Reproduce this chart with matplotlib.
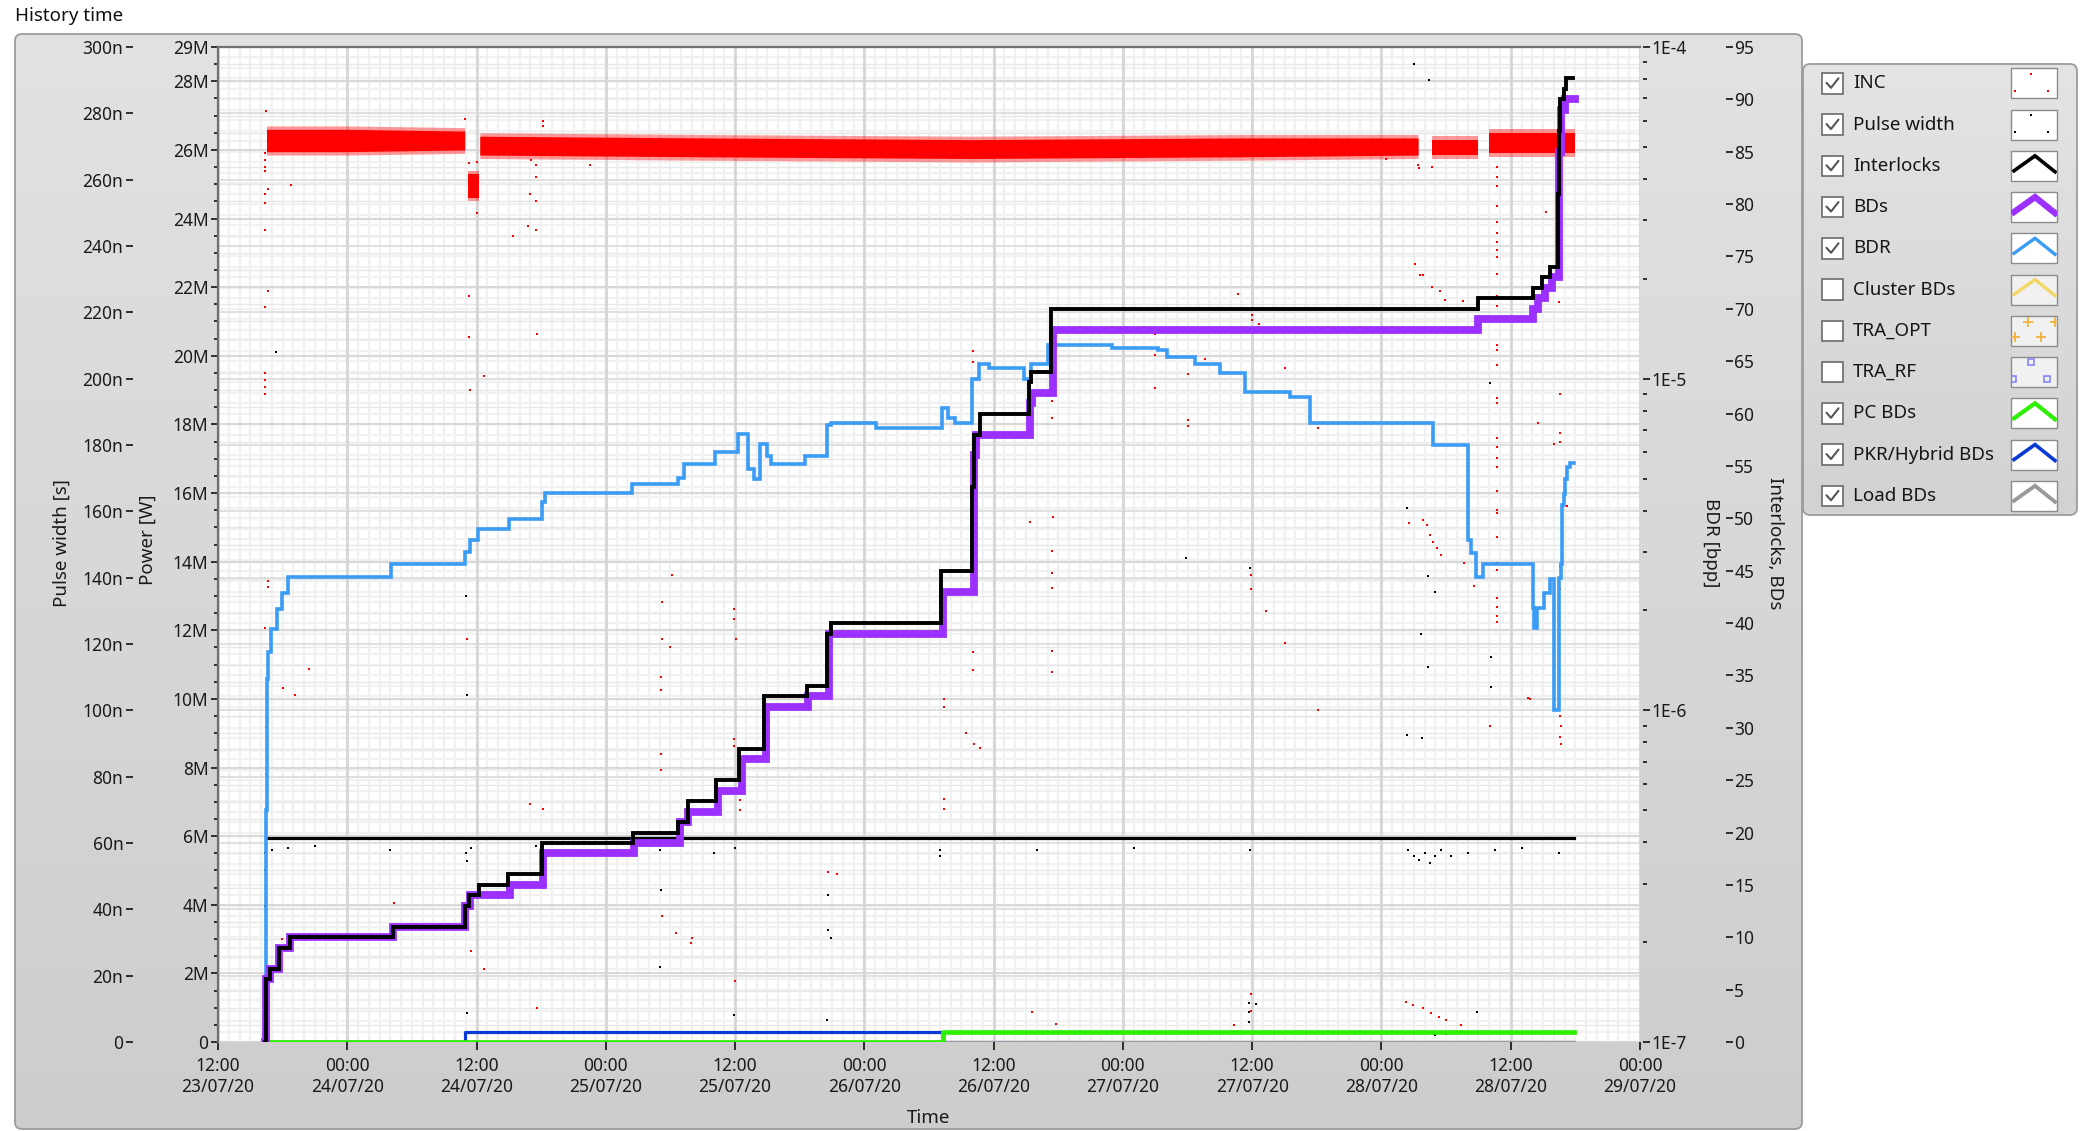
import datetime as dt
import numpy as np
import matplotlib
matplotlib.use("Agg")
import matplotlib.pyplot as plt
import matplotlib.dates as mdates
from matplotlib.patches import FancyBboxPatch, Rectangle
from matplotlib.colors import LinearSegmentedColormap
from matplotlib.ticker import LogLocator, NullFormatter, MultipleLocator

plt.rcParams['font.family'] = ['Noto Sans', 'DejaVu Sans']

W, H = 2088, 1131
T0 = dt.datetime(2020, 7, 23, 12, 0)
SPAN_H = 132

# ---- data (time in hours after 23/07/20 12:00) ----
# INC power band (dense red dots), in MW
inc_band_t = [[4.5, 12.0, 22.9], [23.2, 24.2], [24.3, 45.0, 70.0, 95.0, 111.4],
              [112.7, 117.0], [118.0, 126.0]]
inc_band_lo = [[25.95, 25.95, 26.0], [24.6, 24.6], [25.85, 25.8, 25.75, 25.8, 25.85],
               [25.85, 25.85], [25.9, 25.9]]
inc_band_hi = [[26.6, 26.6, 26.55], [25.3, 25.3], [26.4, 26.35, 26.3, 26.35, 26.35],
               [26.3, 26.3], [26.5, 26.5]]

# INC isolated points (hours, MW)
inc_outliers = [
    (4.49, 27.14), (4.4, 25.9), (4.4, 25.7), (4.4, 25.5), (4.4, 25.4), (4.34, 24.73),
    (4.65, 24.87), (4.34, 24.44), (6.82, 24.98), (4.34, 23.68), (4.65, 21.89), (4.34, 21.41),
    (4.4, 19.5), (4.4, 19.3), (4.4, 19.1), (4.4, 18.9), (4.66, 13.44), (4.66, 13.25),
    (4.37, 12.08), (8.49, 10.88), (6.03, 10.31), (7.11, 10.10), (4.5, 9.17), (4.5, 7.8),
    (4.5, 6.5), (4.5, 4.53), (4.5, 2.74), (5.9, 3.0),
    (23.3, 25.61), (24.0, 25.66), (22.9, 26.9), (24.0, 24.15), (23.3, 21.75), (23.3, 20.55),
    (24.7, 19.4), (23.4, 19.0), (23.15, 11.74), (23.5, 2.66), (24.7, 2.12), (16.3, 4.05),
    (30.2, 26.84), (30.2, 26.7), (29.1, 25.7), (29.5, 25.57), (29.5, 25.2), (29.0, 24.73),
    (29.5, 24.5), (28.8, 23.78), (29.5, 23.68), (27.4, 23.49), (29.6, 20.64), (34.5, 25.56),
    (29.0, 6.94), (30.2, 6.79), (29.6, 1.0),
    (42.1, 13.62), (41.2, 12.83), (41.2, 11.74), (42.0, 11.5), (41.1, 10.64), (41.1, 10.25),
    (41.1, 8.38), (41.1, 7.94), (41.2, 3.66), (42.5, 3.17), (44.0, 3.03), (43.9, 2.88),
    (47.9, 12.61), (47.9, 12.32), (48.1, 11.74), (47.9, 8.82), (47.9, 8.63), (48.5, 7.05),
    (48.5, 6.75), (48.0, 1.78), (56.6, 4.95), (57.5, 4.9),
    (67.35, 10.0), (67.35, 9.77), (67.35, 7.07), (67.35, 6.79),
    (70.1, 20.13), (70.1, 19.82), (70.1, 11.37), (70.1, 10.85), (69.4, 9.01), (70.2, 8.69),
    (70.7, 8.57), (75.4, 15.16), (77.5, 15.31), (77.4, 14.3), (77.4, 13.66), (77.4, 13.24),
    (77.4, 11.4), (77.4, 10.78), (77.4, 18.67), (77.4, 18.2), (75.6, 0.87), (77.8, 0.53),
    (87.0, 20.64), (87.0, 20.03), (87.0, 19.06), (90.0, 19.48), (90.0, 18.14), (90.0, 17.95),
    (91.6, 19.91), (94.7, 21.81), (96.0, 21.18), (96.0, 21.04), (96.6, 20.94), (99.0, 19.64),
    (102.1, 17.9), (95.9, 13.2), (95.9, 13.6), (97.3, 12.56), (99.0, 11.64), (102.1, 9.67),
    (94.3, 0.5), (95.9, 1.4), (95.9, 0.9),
    (108.4, 25.74), (111.4, 25.55), (111.5, 25.47), (112.7, 25.5), (111.1, 22.68),
    (111.6, 22.35), (111.9, 22.35), (112.7, 22.0), (113.4, 21.9), (113.9, 21.63), (115.6, 21.6),
    (110.6, 15.12), (111.9, 15.21), (112.2, 15.07), (112.5, 14.78), (112.8, 14.56),
    (113.2, 14.39), (113.5, 14.2), (115.7, 13.96), (116.6, 13.28),
    (118.7, 25.5), (118.7, 25.2), (118.7, 24.96), (118.7, 24.37), (118.7, 23.91), (118.7, 23.59),
    (118.7, 23.33), (118.7, 23.07), (118.7, 22.87), (118.7, 22.39), (118.7, 21.75),
    (118.7, 21.45), (118.7, 21.11), (118.7, 20.3), (118.7, 20.16), (118.7, 19.72),
    (118.7, 18.77), (118.7, 18.62), (118.7, 17.6), (118.7, 17.34), (118.7, 17.02),
    (118.7, 16.75), (118.7, 16.07), (118.7, 15.5), (118.7, 15.41), (118.7, 14.73),
    (118.7, 13.95), (118.7, 13.76), (118.7, 12.94), (118.7, 12.67), (118.7, 12.41),
    (118.7, 12.23), (118.1, 9.21), (121.8, 10.0), (122.5, 18.05), (123.3, 24.18),
    (121.6, 10.03), (124.6, 18.9), (124.6, 17.75), (124.6, 17.5), (124.6, 13.88),
    (124.6, 13.19), (124.6, 9.5), (124.7, 9.2), (124.6, 8.9), (124.7, 8.7), (124.5, 21.57),
    (125.2, 15.61), (124.0, 17.44),
    (110.3, 1.18), (110.9, 1.08), (111.9, 0.98), (112.6, 0.84), (113.3, 0.74), (114.0, 0.64),
    (115.4, 0.5), (116.9, 0.26),
]

# pulse width: main level and stray points (hours, ns)
pw_t = [4.45, 125.9]
pw_ns = [61.5, 61.5]
pw_outliers = [
    (4.4, 57), (4.4, 52), (4.45, 47), (4.4, 41), (5.4, 208), (23.0, 134.5), (23.1, 104.5),
    (23.1, 54.5), (30.2, 46.4), (41.1, 45.9), (56.6, 44.4), (56.6, 33.8), (56.9, 31.3),
    (41.0, 22.6), (47.9, 8.2), (56.5, 6.6), (23.1, 8.8), (110.4, 161), (112.3, 140.6),
    (113.0, 135.6), (111.7, 123), (118.2, 116), (112.3, 113), (118.2, 107), (110.4, 92.7),
    (111.8, 91.7), (89.9, 146), (95.8, 143), (118.1, 198.7), (111.0, 295), (112.4, 290),
    (95.7, 11.8), (95.7, 9.0), (95.7, 6.0), (95.7, 3.0), (96.4, 11.5), (116.9, 9.0),
    (113.0, 2.0), (114.0, 2.5),
    (5.0, 58), (6.5, 58.5), (9.0, 59), (16.0, 58), (23.0, 57), (23.5, 58.5), (29.5, 59),
    (30.0, 57.5), (41.0, 58), (46.0, 57), (48.0, 58.5), (67.0, 58), (67.0, 56), (76.0, 58),
    (85.0, 58.5), (95.8, 58), (110.5, 58), (111.0, 56), (111.5, 55), (112.0, 57),
    (112.5, 54), (113.0, 56), (113.5, 58), (114.5, 56), (116.0, 57), (118.5, 58),
    (121.0, 58.5), (124.5, 57),
]

# interlocks (cumulative count), step changes
il_t = [4.4, 4.45, 4.5, 4.8, 5.7, 6.7, 16.2, 22.9, 23.3, 24.2, 26.9, 30.1, 38.5, 42.7,
        43.6, 46.2, 48.4, 50.7, 54.7, 56.5, 56.9, 67.1, 70.0, 70.2, 70.7, 75.3, 75.5, 77.3,
        117.0, 122.1, 122.9, 123.6, 124.4, 124.5, 124.6, 124.9, 125.1, 125.8]
il_n = [0, 2, 6, 7, 9, 10, 11, 13, 14, 15, 16, 19, 20, 21, 23, 25, 28, 33, 34, 39, 40,
        45, 53, 58, 60, 63, 64, 70, 71, 72, 73, 74, 81, 87, 90, 91, 92, 92]

# breakdowns (cumulative count)
bd_t = [4.4, 4.45, 4.5, 4.8, 5.7, 6.7, 16.2, 22.9, 23.4, 27.1, 30.2, 38.6, 42.9, 43.6,
        46.4, 48.6, 50.9, 54.8, 56.7, 67.3, 70.2, 70.4, 75.4, 75.6, 77.5, 117.0, 122.1,
        122.5, 123.2, 123.8, 124.5, 124.7, 125.0, 126.0]
bd_n = [0, 2, 6, 7, 9, 10, 11, 13, 14, 15, 18, 19, 21, 22, 24, 27, 32, 33, 39, 43, 56,
        58, 61, 62, 68, 69, 70, 71, 72, 73, 85, 89, 90, 90]

# breakdown rate [bpp]
bdr_t = [4.45, 4.47, 4.55, 4.65, 4.95, 5.5, 5.9, 6.5, 16.1, 22.9, 23.4, 24.1, 27.0, 30.1,
         30.4, 38.4, 42.7, 43.3, 46.1, 48.3, 49.2, 49.8, 50.3, 51.0, 51.3, 54.5, 56.5,
         56.9, 61.1, 67.2, 67.8, 68.4, 70.0, 70.6, 71.6, 74.8, 75.5, 77.0, 83.0, 87.3,
         88.1, 90.7, 93.0, 95.3, 99.5, 101.4, 112.8, 116.0, 116.3, 116.8, 117.4, 122.1,
         122.2, 122.4, 123.1, 123.6, 124.0, 124.5, 124.7, 124.75, 124.9, 125.0, 125.2,
         125.5, 125.9]
bdr_v = [1.0e-7, 5.0e-7, 1.24e-6, 1.50e-6, 1.76e-6, 2.02e-6, 2.26e-6, 2.52e-6, 2.76e-6,
         3.01e-6, 3.27e-6, 3.52e-6, 3.78e-6, 4.24e-6, 4.52e-6, 4.81e-6, 5.01e-6, 5.53e-6,
         6.0e-6, 6.82e-6, 5.35e-6, 4.99e-6, 6.37e-6, 5.86e-6, 5.53e-6, 5.83e-6, 7.23e-6,
         7.36e-6, 7.10e-6, 8.15e-6, 7.60e-6, 7.35e-6, 1.0e-5, 1.11e-5, 1.08e-5, 1.0e-5,
         1.11e-5, 1.26e-5, 1.24e-5, 1.22e-5, 1.16e-5, 1.11e-5, 1.04e-5, 9.12e-6, 8.81e-6,
         7.35e-6, 6.32e-6, 3.26e-6, 2.99e-6, 2.52e-6, 2.77e-6, 2.03e-6, 1.77e-6, 2.03e-6,
         2.26e-6, 2.49e-6, 1.0e-6, 2.51e-6, 2.77e-6, 4.15e-6, 4.49e-6, 5.0e-6, 5.4e-6,
         5.57e-6, 5.57e-6]

pc_t = [4.45, 67.3, 125.9]
pc_n = [0, 1, 1]
pkr_t = [4.45, 22.9, 67.3, 125.9]
pkr_n = [0, 1, 0, 0]
load_t = [4.45, 125.9]
load_n = [0, 0]

pw_ticks = list(range(0, 301, 20))
pw_labels = ['0'] + ['%dn' % v for v in pw_ticks[1:]]
pow_ticks = list(range(0, 29, 2)) + [29]
pow_labels = ['0'] + ['%dM' % v for v in pow_ticks[1:]]
bdr_ticks = [1e-7, 1e-6, 1e-5, 1e-4]
bdr_labels = ['1E-7', '1E-6', '1E-5', '1E-4']
il_ticks = list(range(0, 96, 5))

legend_names = ['INC', 'Pulse width', 'Interlocks', 'BDs', 'BDR', 'Cluster BDs',
                'TRA_OPT', 'TRA_RF', 'PC BDs', 'PKR/Hybrid BDs', 'Load BDs']
legend_checked = [1, 1, 1, 1, 1, 0, 0, 0, 1, 1, 1]

C_INC = '#ff0000'
C_BD = '#9b30ff'
C_BDR = '#3a9cf5'
C_PC = '#2cf000'
C_PKR = '#0a3ad6'
C_LOAD = '#9a9a9a'


def hrs(h):
    return [T0 + dt.timedelta(hours=float(x)) for x in h]


fig = plt.figure(figsize=(W / 100, H / 100), dpi=100)
fig.patch.set_facecolor('white')

# background panels
bg = fig.add_axes([0, 0, 1, 1], zorder=-10)
bg.axis('off')


def panel(x0, y0, x1, y1, top, bottom):
    cmap = LinearSegmentedColormap.from_list('p', [top, bottom])
    box = FancyBboxPatch((x0, y0), x1 - x0, y1 - y0, boxstyle='round,pad=0,rounding_size=7',
                         fc='none', ec='#9c9c9c', lw=1.3, zorder=1)
    bg.add_patch(box)
    im = bg.imshow(np.linspace(0, 1, 256)[:, None], cmap=cmap, extent=(x0, x1, y1, y0),
                   aspect='auto', zorder=0)
    im.set_clip_path(box)


panel(15, 34, 1802, 1129, '#e2e2e2', '#cdcdcd')
panel(1803, 64, 2077, 515, '#e4e4e4', '#d2d2d2')
bg.set_xlim(0, W)
bg.set_ylim(H, 0)

fig.text(15 / W, 1 - 16 / H, 'History time', fontsize=13.5, va='center', color='#111111')

# main axes
ax = fig.add_axes([218 / W, 1 - 1042 / H, 1422 / W, 995 / H])
ax.set_facecolor('white')
ax.set_xlim(T0, T0 + dt.timedelta(hours=SPAN_H))
ax.set_ylim(0, 29e6)

tA = ax.transAxes
ax.hlines(np.arange(96) / 95, 0, 1, transform=tA, colors='#f1f1f1', lw=1.6, zorder=0)
ax.vlines(np.arange(SPAN_H + 1) / SPAN_H, 0, 1, transform=tA, colors='#f1f1f1', lw=1.6, zorder=0)
ax.hlines(np.arange(0, 29.01, 0.5) / 29, 0, 1, transform=tA, colors='#e8e8e8', lw=1.0, zorder=0)
ax.hlines(np.arange(0, 301, 20) / 300, 0, 1, transform=tA, colors='#e0e0e0', lw=1.4, zorder=0)
ax.hlines(np.arange(0, 29, 2) / 29, 0, 1, transform=tA, colors='#d9d9d9', lw=1.5, zorder=0)
ax.vlines(np.arange(0, SPAN_H + 1, 12) / SPAN_H, 0, 1, transform=tA, colors='#d6d6d6', lw=2.0, zorder=0)

for s in ['left', 'top']:
    ax.spines[s].set_color('#707070')
    ax.spines[s].set_linewidth(1.6)
for s in ['right', 'bottom']:
    ax.spines[s].set_visible(False)

# INC on power axis: ragged fringe plus dense core
for t, lo, hi in zip(inc_band_t, inc_band_lo, inc_band_hi):
    tt = hrs(t)
    lo_w = np.array(lo) * 1e6
    hi_w = np.array(hi) * 1e6
    ax.fill_between(tt, lo_w - 0.1e6, hi_w + 0.1e6, color=C_INC, alpha=0.4, lw=0, zorder=3)
    ax.fill_between(tt, lo_w, hi_w, color=C_INC, lw=0, zorder=3)
ax.plot(hrs([p[0] for p in inc_outliers]), [p[1] * 1e6 for p in inc_outliers], 's',
        color=C_INC, ms=2.0, mew=0, zorder=3)

ax.set_yticks([v * 1e6 for v in pow_ticks], pow_labels)
ax.yaxis.set_minor_locator(MultipleLocator(0.5e6))
ax.tick_params(axis='y', which='major', direction='out', length=5, width=1.1,
               labelsize=12.5, labelcolor='#1a1a1a', pad=2)
ax.tick_params(axis='y', which='minor', direction='out', length=3, width=1.1)
ax.xaxis.set_major_locator(mdates.HourLocator(byhour=[0, 12]))
ax.xaxis.set_major_formatter(mdates.DateFormatter('%H:%M\n%d/%m/%y'))
ax.tick_params(axis='x', direction='out', length=6, width=1.1, labelsize=12.5,
               labelcolor='#1a1a1a', pad=5)

# pulse width axis (outer left)
ax_pw = ax.twinx()
ax_pw.yaxis.tick_left()
ax_pw.spines['left'].set_position(('axes', (133 - 218) / 1422))
ax_pw.set_ylim(0, 300e-9)
ax_pw.set_yticks([v * 1e-9 for v in pw_ticks], pw_labels)
ax_pw.tick_params(axis='y', direction='out', length=5, width=1.1, labelsize=12.5,
                  labelcolor='#1a1a1a', pad=2)
ax_pw.plot(hrs(pw_t), [v * 1e-9 for v in pw_ns], color='black', lw=2.3, zorder=3)
ax_pw.plot(hrs([p[0] for p in pw_outliers]), [p[1] * 1e-9 for p in pw_outliers], 's',
           color='black', ms=1.9, mew=0)

# BDR axis (inner right, log)
ax_bdr = ax.twinx()
ax_bdr.set_yscale('log')
ax_bdr.set_ylim(1e-7, 1e-4)
ax_bdr.spines['right'].set_position(('axes', 1.002))
ax_bdr.set_yticks(bdr_ticks, bdr_labels)
ax_bdr.yaxis.set_minor_locator(LogLocator(base=10, subs=np.arange(2, 10)))
ax_bdr.yaxis.set_minor_formatter(NullFormatter())
ax_bdr.tick_params(axis='y', which='major', direction='out', length=5, width=1.1,
                   labelsize=12.5, labelcolor='#1a1a1a', pad=1)
ax_bdr.tick_params(axis='y', which='minor', direction='out', length=3, width=1.1)
ax_bdr.step(hrs(bdr_t), bdr_v, where='post', color=C_BDR, lw=2.6,
            solid_joinstyle='miter')

# interlocks / BDs axis (outer right)
ax_il = ax.twinx()
ax_il.set_ylim(0, 95)
ax_il.spines['right'].set_position(('axes', (1726 - 218) / 1422))
ax_il.set_yticks(il_ticks, [str(v) for v in il_ticks])
ax_il.tick_params(axis='y', direction='out', length=5, width=1.1, labelsize=12.5,
                  labelcolor='#1a1a1a', pad=1)
ax_il.step(hrs(pkr_t), pkr_n, where='post', color=C_PKR, lw=2.3)
ax_il.step(hrs(load_t), load_n, where='post', color=C_LOAD, lw=2.3)
ax_il.step(hrs(pc_t), pc_n, where='post', color=C_PC, lw=3.4)
ax_il.step(hrs(bd_t), bd_n, where='post', color=C_BD, lw=5.6, solid_joinstyle='miter')
ax_il.step(hrs(il_t), il_n, where='post', color='black', lw=2.8, solid_joinstyle='miter')

for a in (ax_pw, ax_bdr, ax_il):
    for s in a.spines.values():
        s.set_visible(False)
    a.set_xlim(T0, T0 + dt.timedelta(hours=SPAN_H))

# axis titles
fig.text(62 / W, 1 - 543 / H, 'Pulse width [s]', rotation=90, ha='center', va='center',
         fontsize=13.5, color='#1a1a1a')
fig.text(148 / W, 1 - 540 / H, 'Power [W]', rotation=90, ha='center', va='center',
         fontsize=13.5, color='#1a1a1a')
fig.text(1711 / W, 1 - 543 / H, 'BDR [bpp]', rotation=270, ha='center', va='center',
         fontsize=13.5, color='#1a1a1a')
fig.text(1775 / W, 1 - 543 / H, 'Interlocks, BDs', rotation=270, ha='center', va='center',
         fontsize=13.5, color='#1a1a1a')
fig.text(929 / W, 1 - 1118 / H, 'Time', ha='center', va='center', fontsize=13.5,
         color='#1a1a1a')

# plot legend
sw_style = {
    'INC': ('dots', C_INC), 'Pulse width': ('dots', 'black'),
    'Interlocks': ('line', 'black', 2.6), 'BDs': ('line', C_BD, 4.5),
    'BDR': ('line', C_BDR, 2.4), 'Cluster BDs': ('line', '#f2d766', 2.4),
    'TRA_OPT': ('plus', '#f0b23c'), 'TRA_RF': ('square', '#7c7cff'),
    'PC BDs': ('line', C_PC, 3.0), 'PKR/Hybrid BDs': ('line', C_PKR, 2.6),
    'Load BDs': ('line', C_LOAD, 2.8),
}
for i, (name, chk) in enumerate(zip(legend_names, legend_checked)):
    yc = 83.3 + 41.25 * i
    bg.add_patch(Rectangle((1822, yc - 10.3), 20.6, 20.6, fc='white', ec='#6a6a6a',
                           lw=1.2, zorder=2))
    if chk:
        bg.plot([1826.5, 1831.0, 1838.5], [yc - 0.5, yc + 4.5, yc - 5.0], color='#555555',
                lw=1.5, zorder=3, solid_capstyle='round')
    bg.text(1853, yc, name, ha='left', va='center', fontsize=13.5, color='#151515', zorder=3)
    x0, y0 = 2011, yc - 15
    box = Rectangle((x0, y0), 46, 30, fc='white' if chk else '#f1f1f1', ec='#8c8c8c',
                    lw=1.0, zorder=2)
    bg.add_patch(box)
    st = sw_style[name]
    if st[0] == 'dots':
        bg.plot([x0 + 20, x0 + 4.3, x0 + 37], [y0 + 5.7, y0 + 22.3, y0 + 22.3], 's',
                color=st[1], ms=2.0, mew=0, zorder=3)
    elif st[0] == 'line':
        ln, = bg.plot([x0 + 3, x0 + 24, x0 + 44], [y0 + 20, y0 + 5, y0 + 21], color=st[1],
                      lw=st[2], zorder=3, solid_joinstyle='miter')
        ln.set_clip_path(box)
    elif st[0] == 'plus':
        ln, = bg.plot([x0 + 17, x0 + 44, x0 + 4, x0 + 30], [y0 + 6, y0 + 6, y0 + 21, y0 + 21],
                      '+', color=st[1], ms=7, mew=1.3, zorder=3)
        ln.set_clip_path(box)
    else:
        ln, = bg.plot([x0 + 20, x0 + 2, x0 + 36], [y0 + 5, y0 + 22, y0 + 22], 's',
                      mfc='none', mec=st[1], ms=5, mew=1.1, zorder=3)
        ln.set_clip_path(box)

bg.set_xlim(0, W)
bg.set_ylim(H, 0)

fig.savefig('out.png', dpi=100, facecolor='white')
